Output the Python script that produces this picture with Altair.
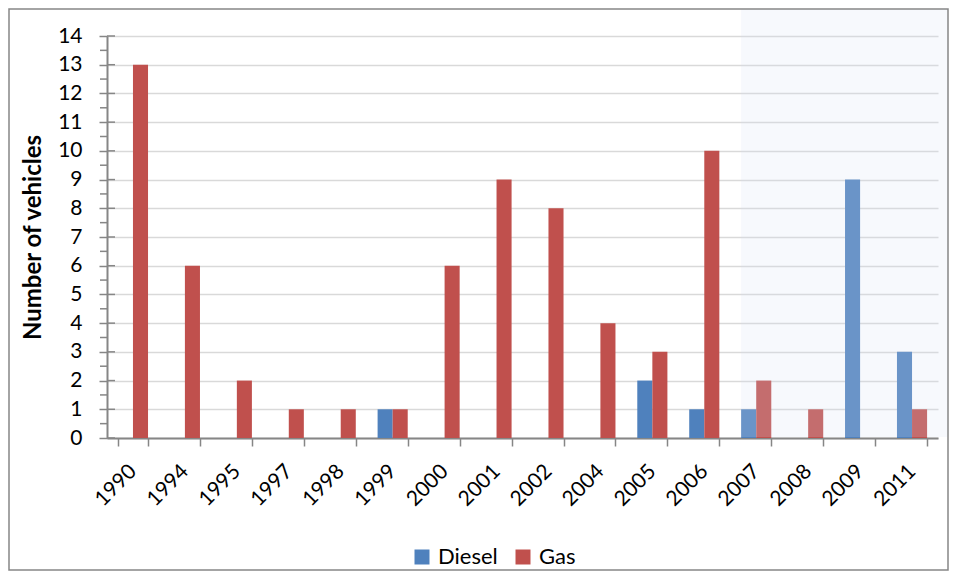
import altair as alt
import pandas as pd

years = ["1990", "1994", "1995", "1997", "1998", "1999", "2000", "2001",
         "2002", "2004", "2005", "2006", "2007", "2008", "2009", "2011"]
diesel = [0, 0, 0, 0, 0, 1, 0, 0, 0, 0, 2, 1, 1, 0, 9, 3]
gas = [13, 6, 2, 1, 1, 1, 6, 9, 8, 4, 3, 10, 2, 1, 0, 1]
fuels = ["Diesel", "Gas"]
colors = ["#4F81BD", "#C0504D"]
y_ticks = [0, 1, 2, 3, 4, 5, 6, 7, 8, 9, 10, 11, 12, 13, 14]
y_minor = [0.5, 1.5, 2.5, 3.5, 4.5, 5.5, 6.5, 7.5, 8.5, 9.5, 10.5, 11.5, 12.5, 13.5]

rows = []
for i, yr in enumerate(years):
    rows.append({"year": yr, "fuel": "Diesel", "count": diesel[i]})
    rows.append({"year": yr, "fuel": "Gas", "count": gas[i]})
df = pd.DataFrame(rows)

W, H = 831, 402
FONT = "Lato"
GREY = "#868686"

y_scale = alt.Scale(domain=[0, 14], nice=False)
y_axis = alt.Axis(title="Number of vehicles", values=y_ticks,
                  labelFontSize=21, labelFont=FONT, labelColor="#000000",
                  labelPadding=17, tickSize=8, tickColor=GREY, tickWidth=1.5,
                  domainColor=GREY, domainWidth=2,
                  grid=True, gridColor="#D9D9D9", gridWidth=1.5,
                  titleFont=FONT, titleFontSize=24, titleFontWeight="bold",
                  titleColor="#000000", titleX=-74, titleY=H / 2,
                  titleAngle=270, titleAlign="center", titleBaseline="middle")

bars = alt.Chart(df).mark_bar().encode(
    x=alt.X("year:N", sort=years,
            scale=alt.Scale(paddingInner=0.42, paddingOuter=0.21),
            axis=alt.Axis(title=None, labelAngle=315, labelAlign="right",
                          labelBaseline="middle", labelFontSize=21, labelFont=FONT,
                          labelColor="#000000", labelPadding=22,
                          tickBand="extent", tickSize=8, tickColor=GREY, tickWidth=1.5,
                          domainColor=GREY, domainWidth=2, grid=False)),
    xOffset=alt.XOffset("fuel:N", sort=fuels,
                        scale=alt.Scale(paddingInner=0, paddingOuter=0)),
    y=alt.Y("count:Q", scale=y_scale, axis=y_axis),
    color=alt.Color("fuel:N", sort=fuels,
                    scale=alt.Scale(domain=fuels, range=colors),
                    legend=alt.Legend(title=None, orient="none", direction="horizontal",
                                      legendX=304, legendY=510,
                                      symbolType="square", symbolSize=225,
                                      symbolStrokeWidth=0, symbolOpacity=1,
                                      labelFontSize=22, labelFont=FONT,
                                      labelColor="#000000", labelOffset=5,
                                      columnPadding=14)),
)

major_inner = alt.Chart(pd.DataFrame({"count": y_ticks})).mark_rule(
    color=GREY, strokeWidth=1.5
).encode(
    y=alt.Y("count:Q", scale=y_scale, axis=y_axis),
    x=alt.value(0), x2=alt.value(8),
)

minor_outer = alt.Chart(pd.DataFrame({"count": y_minor})).mark_rule(
    color=GREY, strokeWidth=1.5
).encode(
    y=alt.Y("count:Q", scale=y_scale, axis=y_axis),
    x=alt.value(-7), x2=alt.value(0),
)

shade = alt.Chart(pd.DataFrame({"k": [0]})).mark_rect(
    fill="#D6E0F5", opacity=0.2
).encode(
    x=alt.X(datum="2007", bandPosition=0),
    x2=alt.value(W + 10),
    y=alt.value(-27),
    y2=alt.value(H - 1),
)

border = alt.Chart(pd.DataFrame({"k": [0]})).mark_rect(
    fillOpacity=0, stroke=GREY, strokeWidth=1.5
).encode(
    x=alt.value(-98),
    x2=alt.value(W + 10),
    y=alt.value(-27),
    y2=alt.value(H + 132),
)

chart = alt.layer(bars, major_inner, minor_outer, shade, border).properties(
    width=W, height=H,
    autosize=alt.AutoSizeParams(type="none"),
    padding={"left": 99, "top": 28, "right": 11, "bottom": 133},
).configure_view(stroke=None)

chart.save("out.html", embed_options={"renderer": "svg", "actions": False})
